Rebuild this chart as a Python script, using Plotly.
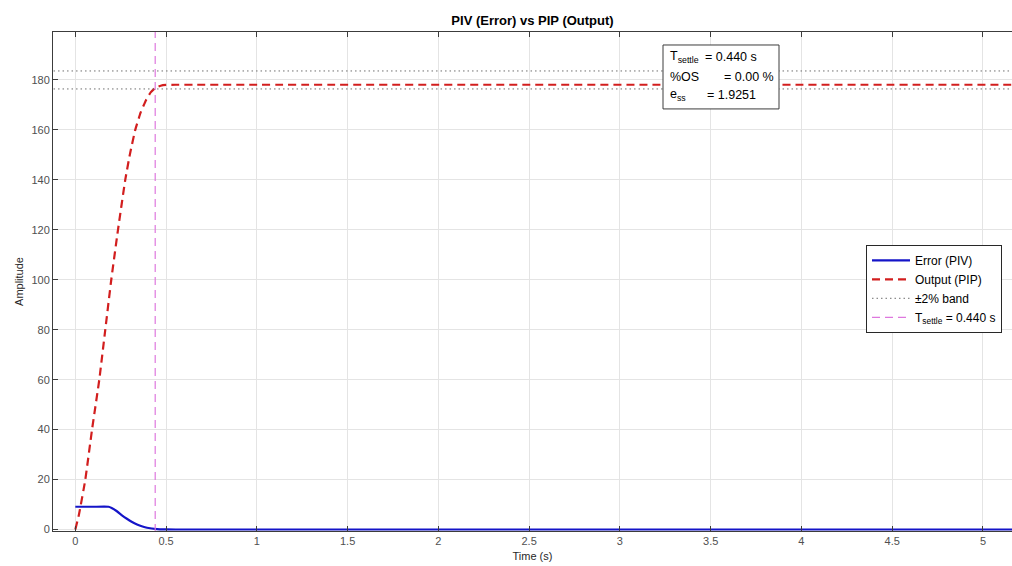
import plotly.graph_objects as go

# ---- data ----
t_out = [0, 0.02, 0.055, 0.092, 0.132, 0.165, 0.198, 0.235, 0.275, 0.30, 0.33, 0.36, 0.39, 0.415, 0.44, 0.47, 0.50, 0.55, 0.65, 5.1, 5.2]
y_out = [0, 6, 20, 40, 60, 80, 100, 120, 140, 150, 160, 167, 172, 175, 176.8, 177.7, 178.0, 178.07, 178.07, 178.07, 178.07]

t_err = [0, 0.1, 0.183, 0.20, 0.229, 0.255, 0.284, 0.31, 0.34, 0.37, 0.395, 0.45, 0.5, 0.6, 5.1, 5.2]
y_err = [9.1, 9.1, 9.1, 8.6, 7.3, 5.8, 4.3, 3.1, 2.0, 1.2, 0.7, 0.15, 0.03, 0, 0, 0]

band_t = [-0.12, 5.2]
band_hi = [183.6, 183.6]
band_lo = [176.4, 176.4]

t_settle = 0.440
settle_x = [t_settle, t_settle]
settle_y = [-1, 199.2]

x_ticks = [0, 0.5, 1, 1.5, 2, 2.5, 3, 3.5, 4, 4.5, 5]
x_labels = ["0", "0.5", "1", "1.5", "2", "2.5", "3", "3.5", "4", "4.5", "5"]
y_ticks = [0, 20, 40, 60, 80, 100, 120, 140, 160, 180]

box_labels = ["T<sub>settle</sub>", "%OS", "e<sub>ss</sub>"]
box_values = ["= 0.440 s", "= 0.00 %", "= 1.9251"]

FONT = "Liberation Sans, Arial, Helvetica, sans-serif"

# plot-area geometry (pixels) used to place the paper-anchored items
L, T, R, B = 53, 32, 1012, 531.5
PW, PH = R - L, B - T


def px(x):
    return (x - L) / PW


def py(y):
    return (B - y) / PH


fig = go.Figure()
fig.add_trace(go.Scatter(x=t_err, y=y_err, mode="lines", name="Error (PIV)",
                         line=dict(color="rgb(20,20,200)", width=2.2, shape="spline", smoothing=0.4)))
fig.add_trace(go.Scatter(x=t_out, y=y_out, mode="lines", name="Output (PIP)",
                         line=dict(color="rgb(210,30,30)", width=2.2, dash="8px,5px",
                                   shape="spline", smoothing=0.4)))
fig.add_trace(go.Scatter(x=band_t, y=band_hi, mode="lines", name="±2% band",
                         line=dict(color="rgb(110,110,110)", width=1, dash="1.5px,3px")))
fig.add_trace(go.Scatter(x=band_t, y=band_lo, mode="lines", name="±2% band", showlegend=False,
                         line=dict(color="rgb(110,110,110)", width=1, dash="1.5px,3px")))
fig.add_trace(go.Scatter(x=settle_x, y=settle_y, mode="lines",
                         name="T<sub>settle</sub> = 0.440 s",
                         line=dict(color="rgb(222,120,222)", width=1.2, dash="8px,5px")))

fig.update_layout(
    width=1012, height=566,
    margin=dict(l=L, r=1012 - R, t=T, b=566 - B),
    paper_bgcolor="white", plot_bgcolor="white",
    font=dict(family=FONT, size=11, color="rgb(60,60,60)"),
    title=dict(text="<b>PIV (Error) vs PIP (Output)</b>", x=0.5, xanchor="center",
               xref="paper", y=1 - 20 / 566, yanchor="middle",
               font=dict(family=FONT, size=13, color="black")),
    showlegend=True,
    legend=dict(x=px(866), y=py(245), xanchor="left", yanchor="top",
                bgcolor="white", bordercolor="rgb(40,40,40)", borderwidth=1,
                font=dict(family=FONT, size=12, color="black"),
                tracegroupgap=0, itemwidth=38),
)

fig.update_xaxes(range=[-0.123, 5.16], tickvals=x_ticks, ticktext=x_labels,
                 showgrid=True, gridcolor="rgb(228,228,228)", gridwidth=1,
                 zeroline=False, showline=True, linecolor="rgb(60,60,60)", linewidth=1,
                 mirror="ticks", ticks="inside", ticklen=5, tickcolor="rgb(60,60,60)",
                 title=dict(text="Time (s)", font=dict(family=FONT, size=11, color="rgb(40,40,40)"), standoff=6),
                 tickfont=dict(family=FONT, size=11, color="rgb(80,80,80)"))
fig.update_yaxes(range=[-0.6, 199.2], tickvals=y_ticks,
                 showgrid=True, gridcolor="rgb(228,228,228)", gridwidth=1,
                 zeroline=False, showline=True, linecolor="rgb(60,60,60)", linewidth=1,
                 mirror=False, ticks="inside", ticklen=5, tickcolor="rgb(60,60,60)",
                 title=dict(text="Amplitude", font=dict(family=FONT, size=11, color="rgb(40,40,40)"), standoff=5),
                 tickfont=dict(family=FONT, size=11, color="rgb(80,80,80)"))

# statistics box
fig.add_shape(type="rect", xref="paper", yref="paper",
              x0=px(663), x1=px(779), y0=py(109), y1=py(45),
              fillcolor="white", line=dict(color="rgb(60,60,60)", width=1), layer="above")
row_y = [57, 77, 95]
val_x = [703, 722, 705]
for lab, val, ry, vx in zip(box_labels, box_values, row_y, val_x):
    fig.add_annotation(text=lab, xref="paper", yref="paper", x=px(668), y=py(ry),
                       xanchor="left", yanchor="middle", showarrow=False,
                       font=dict(family=FONT, size=12.5, color="black"))
    fig.add_annotation(text=val, xref="paper", yref="paper", x=px(vx), y=py(ry),
                       xanchor="left", yanchor="middle", showarrow=False,
                       font=dict(family=FONT, size=12.5, color="black"))

fig.write_html("out.html", config={"displayModeBar": False},
               post_script="document.body.style.margin='0';")
